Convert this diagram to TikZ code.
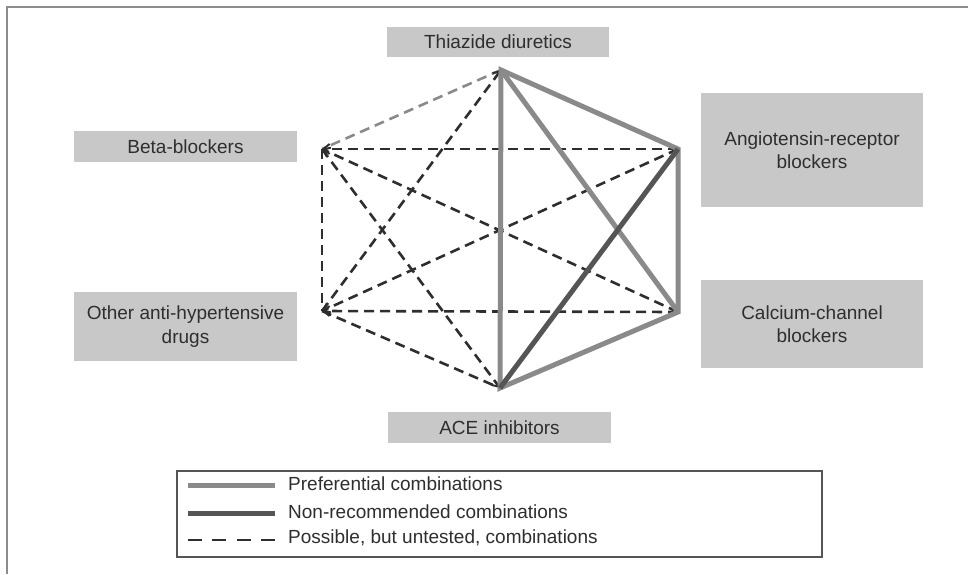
\documentclass[tikz,border=0pt]{standalone}
\usepackage{fontspec}
\setmainfont{Liberation Sans}
\usetikzlibrary{arrows.meta}
\definecolor{boxgray}{HTML}{C8C8C8}
\definecolor{txtgray}{HTML}{2E2E2E}
\definecolor{prefgray}{HTML}{8A8A8A}
\definecolor{nongray}{HTML}{555555}
\definecolor{dashgray}{HTML}{2E2E2E}
\definecolor{framegray}{HTML}{8C8C8C}
\tikzset{
  drugbox/.style={fill=boxgray, draw=none, text=txtgray, align=center, inner sep=0pt,
    font=\fontsize{19}{23.5}\selectfont},
  pref/.style={draw=prefgray, line width=5pt},
  nonrec/.style={draw=nongray, line width=5pt},
  untested/.style={draw=dashgray, line width=2.6pt, dash pattern=on 10pt off 6pt},
  untestedlight/.style={draw=prefgray, line width=2.6pt, dash pattern=on 10pt off 6pt},
  tip/.style={-{Straight Barb[length=6pt,width=10pt,line width=2pt]}},
  legtext/.style={anchor=west, text=txtgray, inner sep=0pt, font=\fontsize{19}{22}\selectfont},
}
\begin{document}
\begin{tikzpicture}[x=1pt,y=-1pt]
\useasboundingbox (0,0) rectangle (977,574);
% frame
\draw[framegray, line width=1.5pt] (7,574) -- (7,7) -- (968,7);
% boxes
\node[drugbox, minimum width=222, minimum height=30] (thz) at (498,42) {Thiazide diuretics};
\node[drugbox, minimum width=223, minimum height=31] (bb) at (185.5,146.5) {Beta-blockers};
\node[drugbox, minimum width=222, minimum height=114] (arb) at (812,150) {Angiotensin-receptor\\blockers};
\node[drugbox, minimum width=222, minimum height=88] (ccb) at (812,324) {Calcium-channel\\blockers};
\node[drugbox, minimum width=223, minimum height=69] (oth) at (185.5,326.5) {Other anti-hypertensive\\drugs};
\node[drugbox, minimum width=223, minimum height=31] (ace) at (499.5,427.5) {ACE inhibitors};
% vertices
\coordinate (T) at (501,70);
\coordinate (B) at (322,149);
\coordinate (A) at (678,149);
\coordinate (O) at (322,311);
\coordinate (C) at (678,312);
\coordinate (E) at (500,388);
% untested combinations
\draw[untestedlight] (T) -- (B);
\draw[untested, tip] (O) -- (T);
\draw[untested, tip] (A) -- (B);
\draw[untested, tip] (C) -- (B);
\draw[untested] (B) -- (O);
\draw[untested, tip] (B) -- (E);
\draw[untested, tip] (A) -- (O);
\draw[untested, tip] (C) -- (O);
\draw[untested] (O) -- (E);
% preferential
\draw[pref, line join=miter] (T) -- (E) -- (C) -- (A) -- cycle;
\draw[pref] (T) -- (C);
% non-recommended
\draw[nonrec] (A) -- (E);
% legend
\node[draw=nongray, line width=1.5pt, minimum width=645, minimum height=86, inner sep=0pt] (leg) at (499.5,514) {};
\coordinate (l1a) at (188,485); \coordinate (l1b) at (275,485);
\coordinate (l2a) at (188,513); \coordinate (l2b) at (275,513);
\coordinate (l3a) at (188,540); \coordinate (l3b) at (275,540);
\draw[pref] (l1a) -- (l1b);
\draw[nonrec] (l2a) -- (l2b);
\draw[untested, dash pattern=on 14pt off 10.3pt] (l3a) -- (l3b);
\node[legtext] (t1) at (288,484) {Preferential combinations};
\node[legtext] (t2) at (288,512) {Non-recommended combinations};
\node[legtext] (t3) at (288,538) {Possible, but untested, combinations};
\end{tikzpicture}
\end{document}
